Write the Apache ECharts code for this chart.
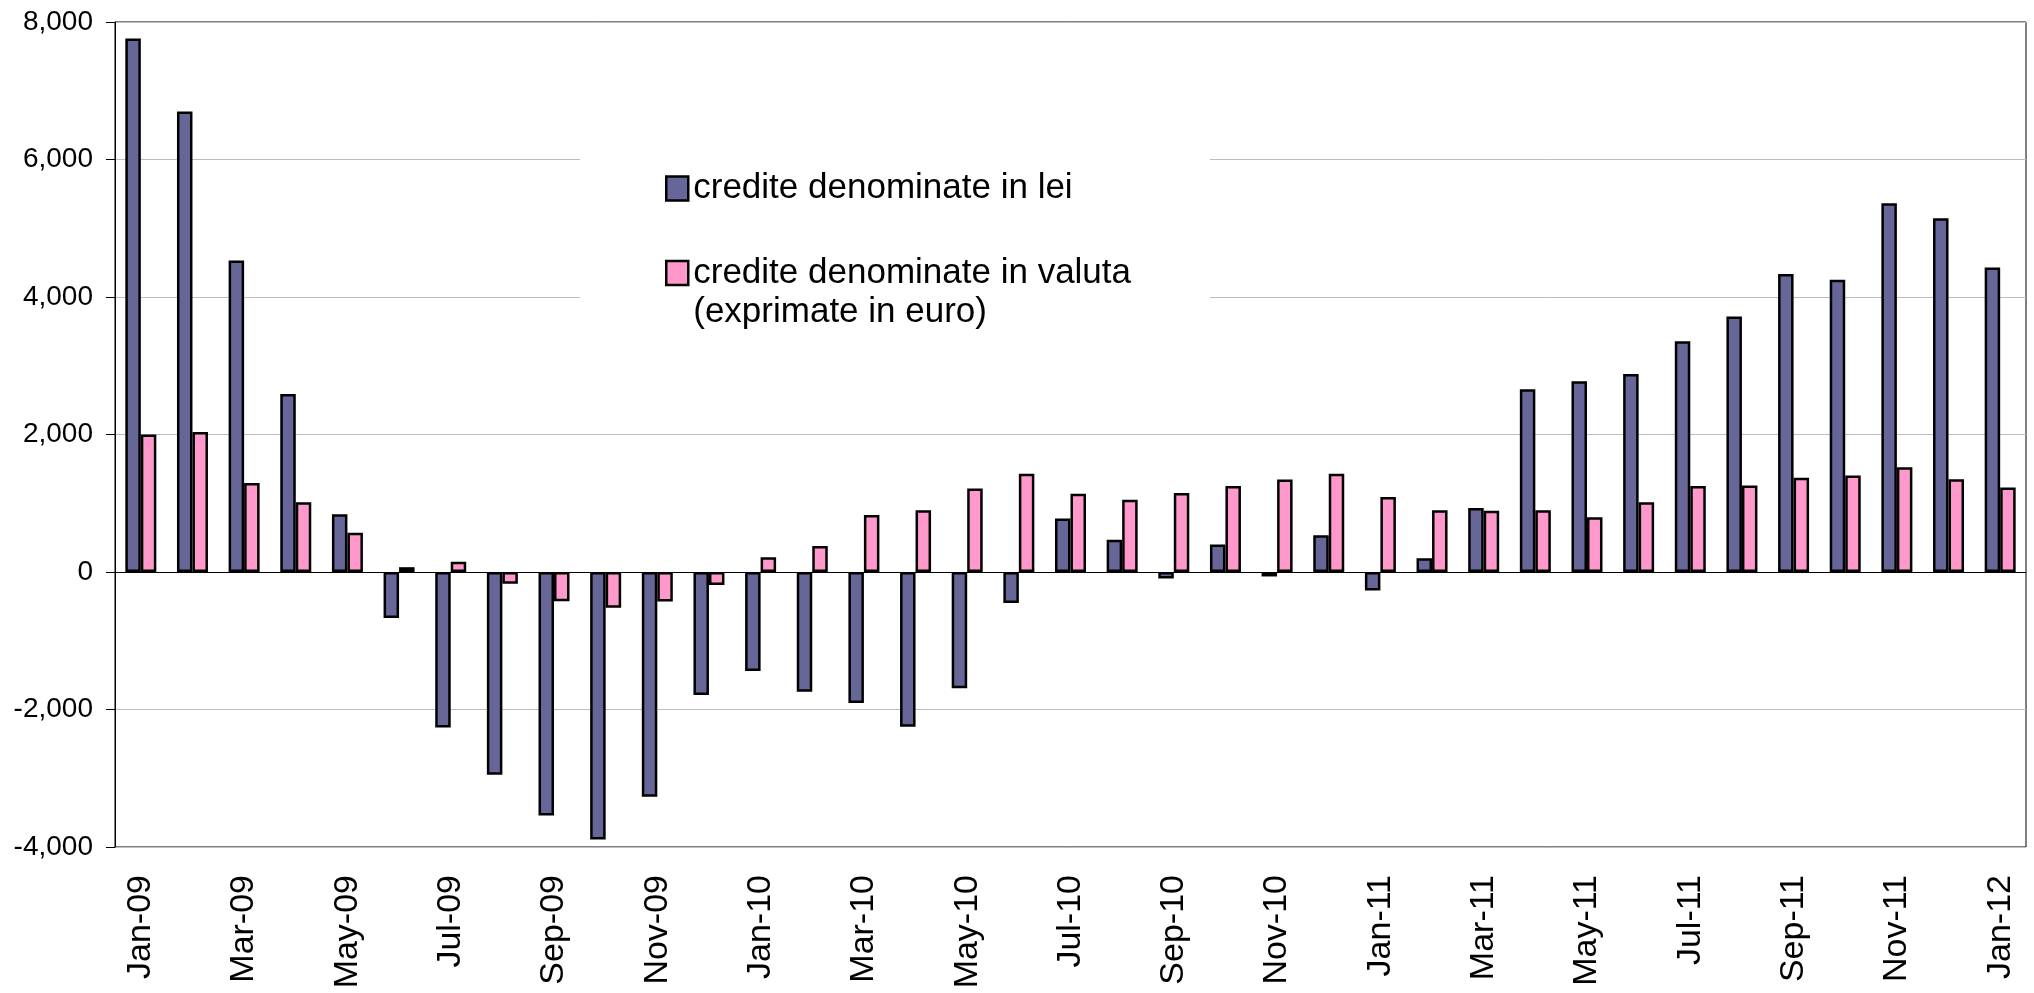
<!DOCTYPE html>
<html>
<head>
<meta charset="utf-8">
<script src="https://cdn.jsdelivr.net/npm/echarts@6/dist/echarts.min.js"></script>
<style>
html, body { margin: 0; padding: 0; background: #fff; }
#chart { width: 2034px; height: 993px; }
</style>
</head>
<body>
<div id="chart"></div>
<script>
// luni ian 2009 - ian 2012
var months = ['Jan-09','Feb-09','Mar-09','Apr-09','May-09','Jun-09','Jul-09','Aug-09','Sep-09','Oct-09','Nov-09','Dec-09',
    'Jan-10','Feb-10','Mar-10','Apr-10','May-10','Jun-10','Jul-10','Aug-10','Sep-10','Oct-10','Nov-10','Dec-10',
    'Jan-11','Feb-11','Mar-11','Apr-11','May-11','Jun-11','Jul-11','Aug-11','Sep-11','Oct-11','Nov-11','Dec-11',
    'Jan-12'];

var lei = [7760, 6700, 4530, 2590, 840, -670, -2260, -2950, -3540, -3890, -3270, -1790,
    -1440, -1740, -1905, -2250, -1690, -450, 780, 470, -95, 400, -65, 535,
    -270, 200, 930, 2660, 2775, 2880, 3355, 3715, 4335, 4250, 5365, 5145,
    4430];

var valuta = [2000, 2035, 1295, 1015, 570, 70, 150, -170, -425, -520, -430, -190,
    215, 380, 830, 900, 1215, 1430, 1140, 1050, 1150, 1250, 1345, 1430,
    1090, 900, 890, 900, 795, 1015, 1250, 1260, 1370, 1405, 1525, 1350,
    1230];

var yTicks = { min: -4000, max: 8000, step: 2000 };

var nameLei = 'credite denominate in lei';
var nameVal = 'credite denominate in valuta\n(exprimate in euro)';

var font = 'Liberation Sans';
var chart = echarts.init(document.getElementById('chart'));

chart.setOption({
    animation: false,
    textStyle: { fontFamily: font },
    grid: {
        left: 115,
        right: 8,
        top: 22,
        bottom: 146,
        outerBoundsMode: 'none',
        show: true,
        borderColor: '#000',
        borderWidth: 1
    },
    legend: [{
        data: [nameLei],
        orient: 'vertical',
        left: 665,
        top: 171,
        padding: 0,
        icon: 'rect',
        itemWidth: 22,
        itemHeight: 24,
        itemStyle: { borderColor: '#000', borderWidth: 2.5 },
        textStyle: { fontFamily: font, fontSize: 35, color: '#000', lineHeight: 24 }
    }, {
        data: [nameVal],
        orient: 'vertical',
        left: 665,
        top: 214.5,
        padding: 0,
        icon: 'rect',
        itemWidth: 22,
        itemHeight: 24,
        itemStyle: { borderColor: '#000', borderWidth: 2.5 },
        // linie goala sus ca primul rand sa stea in dreptul patratului
        formatter: function (n) { return '\n' + n; },
        textStyle: { fontFamily: font, fontSize: 35, color: '#000', lineHeight: 39 }
    }],
    graphic: [{
        type: 'rect',
        z: 1,
        shape: { x: 580, y: 135, width: 630, height: 230 },
        style: { fill: '#fff' }
    }],
    xAxis: [{
        type: 'category',
        data: months,
        position: 'bottom',
        axisLine: { onZero: true, lineStyle: { color: '#000', width: 1 } },
        axisTick: { interval: 1, length: 11, lineStyle: { color: '#555' } },
        axisLabel: { show: false },
        splitLine: { show: false }
    }, {
        type: 'category',
        data: months,
        position: 'bottom',
        axisLine: { show: false, onZero: false },
        axisTick: { show: false },
        axisLabel: {
            interval: 1,
            rotate: 90,
            margin: 28,
            fontSize: 34,
            color: '#000',
            fontFamily: font
        }
    }],
    yAxis: {
        type: 'value',
        min: yTicks.min,
        max: yTicks.max,
        interval: yTicks.step,
        axisLine: { show: true, lineStyle: { color: '#000' } },
        axisTick: { show: true, length: 9, lineStyle: { color: '#000' } },
        axisLabel: {
            fontSize: 28,
            color: '#000',
            margin: 22,
            fontFamily: font,
            formatter: function (v) { return v.toLocaleString('en-US'); }
        },
        splitLine: { lineStyle: { color: '#bdbdbd', width: 1 } }
    },
    series: [{
        name: nameLei,
        type: 'bar',
        xAxisIndex: 0,
        data: lei,
        barWidth: 15.5,
        barGap: '0%',
        itemStyle: { color: '#666699', borderColor: '#000', borderWidth: 2.5 }
    }, {
        name: nameVal,
        type: 'bar',
        xAxisIndex: 0,
        data: valuta,
        barWidth: 15.5,
        barGap: '0%',
        itemStyle: { color: '#FF99CC', borderColor: '#000', borderWidth: 2.5 }
    }]
});
</script>
</body>
</html>
